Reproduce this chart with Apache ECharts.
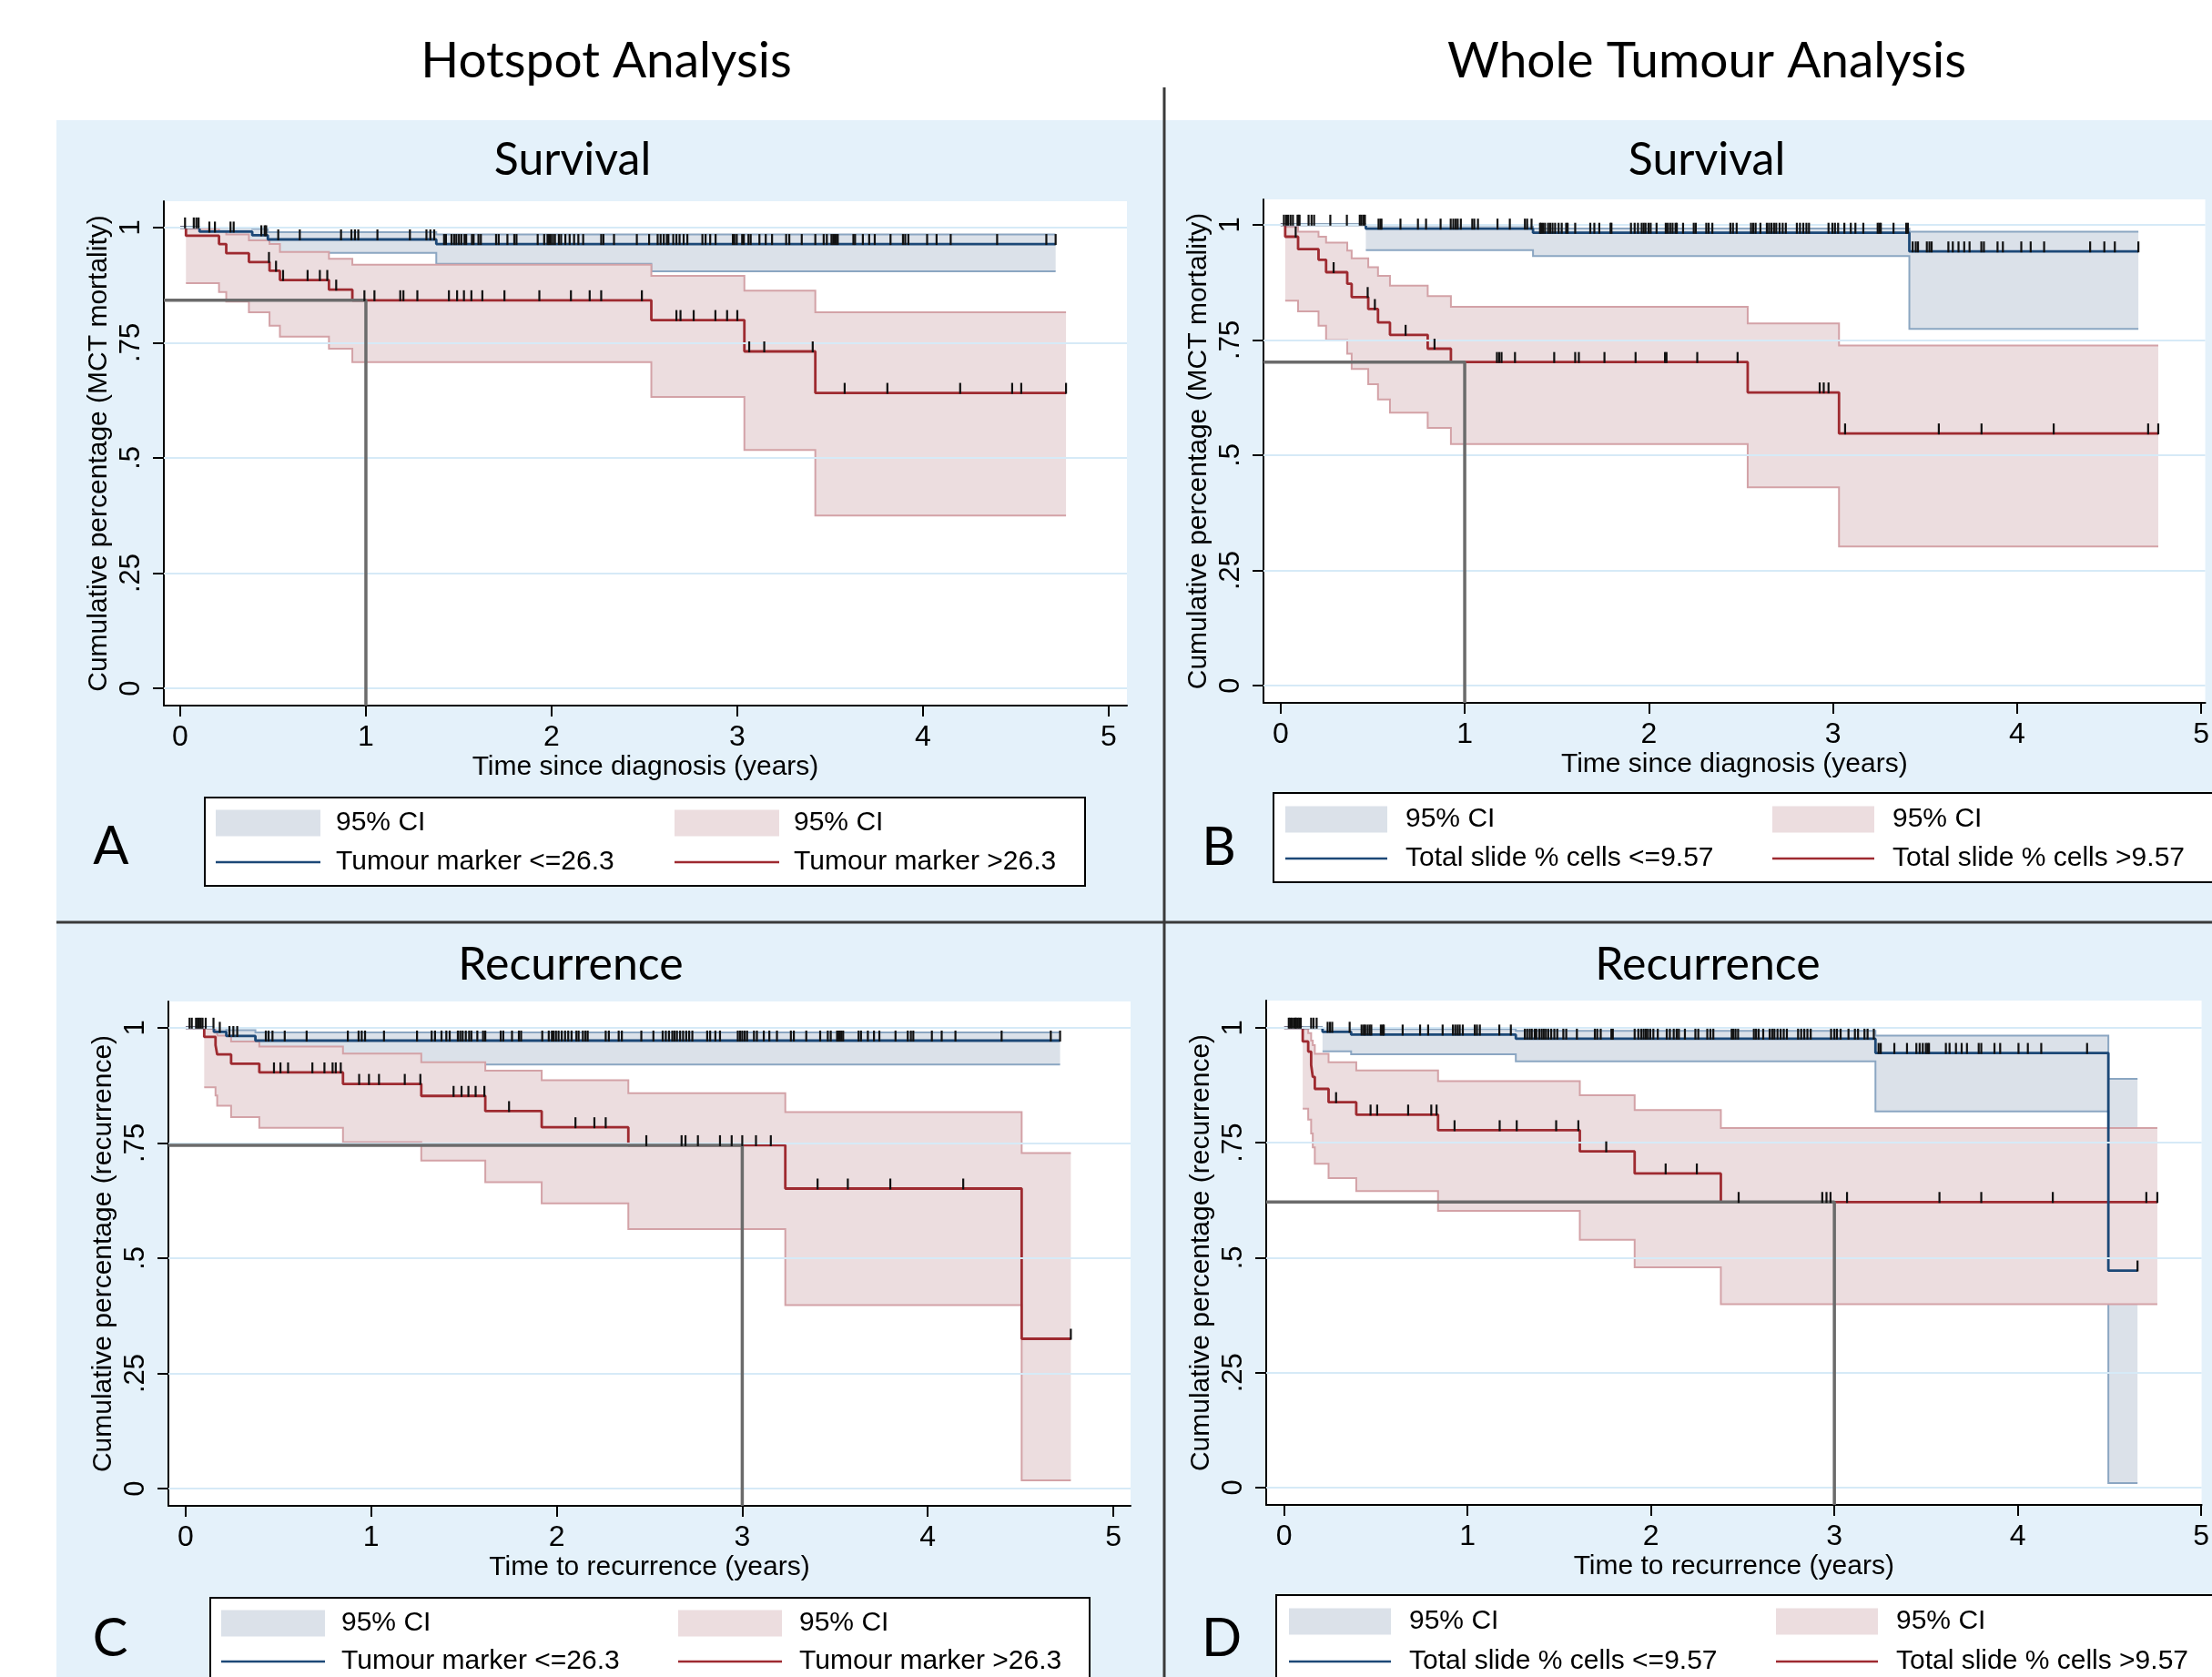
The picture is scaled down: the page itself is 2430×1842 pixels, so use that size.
<!DOCTYPE html>
<html>
<head>
<meta charset="utf-8">
<script src="https://cdn.jsdelivr.net/npm/echarts@6/dist/echarts.min.js"></script>
<style>
html, body { margin: 0; padding: 0; background: #fff; }
#show { width: 2430px; height: 1842px; }
</style>
</head>
<body>
<div id="show"></div>
<script>
var myChart = echarts.init(document.getElementById("show"));

// ---- axis ticks ----
var xTickVals = [0, 1, 2, 3, 4, 5];
var yTickVals = [0, 0.25, 0.5, 0.75, 1];
var yTickLabels = ['0', '.25', '.5', '.75', '1'];

// ---- A: hotspot, survival ----
var aRedT  = [0, 0.031, 0.209, 0.248, 0.370, 0.481, 0.537, 0.801, 0.927, 2.537, 3.038, 3.420];
var aRedS  = [1, 0.982, 0.964, 0.944, 0.925, 0.906, 0.886, 0.865, 0.842, 0.799, 0.731, 0.641];
var aRedLo = [null, 0.879, 0.860, 0.839, 0.816, 0.787, 0.763, 0.737, 0.708, 0.632, 0.517, 0.375];
var aRedHi = [null, 0.997, 0.992, 0.985, 0.972, 0.964, 0.947, 0.932, 0.919, 0.895, 0.863, 0.816];
var aRedEnd = 4.77;
var aRedCens = [0.478, 0.516, 0.554, 0.686, 0.752, 0.792, 0.840, 0.992, 1.046, 1.185, 1.202, 1.277, 1.447, 1.491, 1.528, 1.568, 1.627, 1.746, 1.934, 2.104, 2.205, 2.267, 2.486, 2.672, 2.694, 2.765, 2.882, 2.945, 3.000, 3.064, 3.145, 3.406, 3.578, 3.808, 4.200, 4.480, 4.529, 4.770];
var aBlueT  = [0, 0.104, 0.388, 0.472, 1.379, 2.537];
var aBlueS  = [1, 0.991, 0.983, 0.974, 0.964, 0.964];
var aBlueLo = [null, 0.960, 0.955, 0.945, 0.921, 0.905];
var aBlueHi = [null, 0.999, 0.997, 0.990, 0.985, 0.985];
var aBlueEnd = 4.714;
var aBlueCens = [0.026, 0.073, 0.087, 0.099, 0.157, 0.187, 0.271, 0.288, 0.437, 0.455, 0.463, 0.528, 0.644, 0.866, 0.922, 0.941, 0.959, 1.062, 1.237, 1.326, 1.347, 1.368, 1.421, 1.431, 1.461, 1.475, 1.487, 1.501, 1.514, 1.531, 1.540, 1.571, 1.580, 1.606, 1.619, 1.701, 1.715, 1.762, 1.799, 1.811, 1.925, 1.960, 1.978, 1.986, 1.995, 2.007, 2.018, 2.039, 2.051, 2.074, 2.097, 2.121, 2.144, 2.170, 2.267, 2.279, 2.336, 2.459, 2.525, 2.571, 2.587, 2.604, 2.621, 2.629, 2.655, 2.672, 2.689, 2.711, 2.731, 2.812, 2.829, 2.854, 2.883, 2.976, 2.984, 2.997, 3.026, 3.035, 3.060, 3.072, 3.119, 3.153, 3.187, 3.263, 3.280, 3.347, 3.420, 3.465, 3.482, 3.507, 3.516, 3.524, 3.533, 3.541, 3.625, 3.634, 3.676, 3.710, 3.740, 3.825, 3.892, 3.904, 3.921, 4.022, 4.073, 4.149, 4.399, 4.664, 4.714];
var aRef = [1, 0.842];

// ---- B: whole tumour, survival ----
var bRedT  = [0, 0.025, 0.095, 0.206, 0.247, 0.362, 0.386, 0.476, 0.529, 0.594, 0.799, 0.925, 2.537, 3.033];
var bRedS  = [1, 0.974, 0.947, 0.924, 0.897, 0.872, 0.843, 0.817, 0.788, 0.761, 0.731, 0.702, 0.636, 0.547];
var bRedLo = [null, 0.835, 0.812, 0.781, 0.750, 0.720, 0.687, 0.654, 0.621, 0.592, 0.559, 0.524, 0.430, 0.302];
var bRedHi = [null, 0.995, 0.985, 0.974, 0.961, 0.944, 0.927, 0.908, 0.889, 0.868, 0.845, 0.822, 0.786, 0.738];
var bRedEnd = 4.767;
var bRedCens = [0.082, 0.288, 0.473, 0.512, 0.679, 0.836, 1.175, 1.187, 1.200, 1.273, 1.486, 1.600, 1.620, 1.759, 1.928, 2.088, 2.096, 2.263, 2.482, 2.928, 2.950, 2.976, 3.066, 3.575, 3.807, 4.199, 4.712, 4.767];
var bBlueT  = [0, 0.463, 1.371, 3.415];
var bBlueS  = [1, 0.9915, 0.9825, 0.942];
var bBlueLo = [null, 0.945, 0.932, 0.774];
var bBlueHi = [null, 0.999, 0.992, 0.985];
var bBlueEnd = 4.659;
var bBlueCens = [0.018, 0.030, 0.041, 0.054, 0.067, 0.092, 0.098, 0.103, 0.152, 0.168, 0.182, 0.270, 0.360, 0.430, 0.439, 0.450, 0.458, 0.532, 0.542, 0.548, 0.651, 0.746, 0.790, 0.869, 0.924, 0.938, 0.951, 0.962, 0.979, 1.041, 1.052, 1.072, 1.178, 1.245, 1.327, 1.339, 1.363, 1.409, 1.415, 1.425, 1.436, 1.453, 1.464, 1.477, 1.491, 1.510, 1.527, 1.551, 1.559, 1.600, 1.682, 1.704, 1.731, 1.792, 1.797, 1.903, 1.923, 1.941, 1.961, 1.972, 1.982, 1.998, 2.010, 2.042, 2.092, 2.103, 2.116, 2.129, 2.145, 2.152, 2.186, 2.244, 2.255, 2.312, 2.325, 2.345, 2.443, 2.457, 2.477, 2.555, 2.567, 2.580, 2.606, 2.641, 2.653, 2.666, 2.680, 2.692, 2.710, 2.727, 2.744, 2.804, 2.821, 2.839, 2.856, 2.870, 2.976, 2.997, 3.011, 3.028, 3.062, 3.097, 3.122, 3.165, 3.243, 3.252, 3.260, 3.329, 3.398, 3.407, 3.433, 3.450, 3.462, 3.510, 3.524, 3.536, 3.627, 3.651, 3.682, 3.713, 3.742, 3.806, 3.820, 3.894, 3.923, 4.023, 4.074, 4.147, 4.397, 4.474, 4.531, 4.659];
var bRef = [1, 0.702];

// ---- C: hotspot, recurrence ----
var cRedT  = [0, 0.100, 0.161, 0.170, 0.245, 0.397, 0.848, 1.270, 1.615, 1.919, 2.386, 3.232, 4.506];
var cRedS  = [1, 0.980, 0.962, 0.942, 0.922, 0.903, 0.878, 0.852, 0.819, 0.784, 0.745, 0.651, 0.325];
var cRedLo = [null, 0.871, 0.853, 0.831, 0.806, 0.783, 0.752, 0.712, 0.665, 0.619, 0.563, 0.398, 0.018];
var cRedHi = [null, 0.998, 0.990, 0.983, 0.970, 0.959, 0.944, 0.925, 0.907, 0.886, 0.858, 0.817, 0.728];
var cRedEnd = 4.771;
var cRedCens = [0.476, 0.511, 0.552, 0.683, 0.748, 0.792, 0.809, 0.836, 0.935, 0.988, 1.042, 1.181, 1.265, 1.444, 1.487, 1.524, 1.563, 1.610, 1.743, 2.101, 2.203, 2.264, 2.483, 2.673, 2.694, 2.761, 2.880, 2.943, 3.000, 3.074, 3.154, 3.406, 3.569, 3.798, 4.191, 4.771];
var cBlueT  = [0, 0.152, 0.219, 0.376];
var cBlueS  = [1, 0.991, 0.982, 0.972];
var cBlueLo = [null, 0.945, 0.930, 0.920];
var cBlueHi = [null, 0.999, 0.995, 0.990];
var cBlueEnd = 4.713;
var cBlueCens = [0.021, 0.033, 0.056, 0.065, 0.073, 0.082, 0.091, 0.108, 0.150, 0.184, 0.236, 0.257, 0.278, 0.432, 0.447, 0.468, 0.534, 0.652, 0.874, 0.932, 0.949, 0.967, 1.069, 1.247, 1.326, 1.344, 1.379, 1.405, 1.423, 1.467, 1.480, 1.493, 1.510, 1.528, 1.540, 1.572, 1.603, 1.615, 1.698, 1.712, 1.759, 1.796, 1.808, 1.922, 1.957, 1.974, 1.983, 1.996, 2.010, 2.027, 2.045, 2.062, 2.080, 2.106, 2.118, 2.141, 2.155, 2.167, 2.264, 2.281, 2.334, 2.351, 2.456, 2.521, 2.571, 2.588, 2.605, 2.623, 2.635, 2.648, 2.665, 2.681, 2.698, 2.714, 2.731, 2.811, 2.827, 2.855, 2.880, 2.976, 2.988, 3.000, 3.013, 3.026, 3.063, 3.079, 3.116, 3.146, 3.187, 3.262, 3.278, 3.345, 3.420, 3.461, 3.477, 3.511, 3.519, 3.527, 3.535, 3.544, 3.627, 3.640, 3.677, 3.710, 3.739, 3.826, 3.892, 3.909, 3.922, 4.022, 4.075, 4.149, 4.398, 4.663, 4.713];
var cRef = [3, 0.745];

// ---- D: whole tumour, recurrence ----
var dRedT  = [0, 0.101, 0.131, 0.147, 0.156, 0.167, 0.242, 0.393, 0.839, 1.612, 1.911, 2.381];
var dRedS  = [1, 0.970, 0.948, 0.919, 0.893, 0.867, 0.838, 0.811, 0.777, 0.731, 0.683, 0.621];
var dRedLo = [null, 0.824, 0.800, 0.770, 0.740, 0.704, 0.673, 0.645, 0.602, 0.539, 0.479, 0.399];
var dRedHi = [null, 0.997, 0.988, 0.972, 0.962, 0.943, 0.925, 0.907, 0.884, 0.853, 0.821, 0.782];
var dRedEnd = 4.761;
var dRedCens = [0.283, 0.471, 0.507, 0.676, 0.802, 0.831, 0.929, 1.175, 1.268, 1.483, 1.604, 1.756, 2.080, 2.250, 2.478, 2.934, 2.957, 2.979, 3.069, 3.573, 3.801, 4.191, 4.701, 4.761];
var dBlueT  = [0, 0.209, 0.365, 1.263, 3.224, 4.494];
var dBlueS  = [1, 0.991, 0.985, 0.976, 0.945, 0.472];
var dBlueLo = [null, 0.9485, 0.942, 0.927, 0.818, 0.010];
var dBlueHi = [null, 0.999, 0.997, 0.993, 0.983, 0.889];
var dBlueEnd = 4.653;
var dBlueCens = [0.025, 0.033, 0.041, 0.052, 0.061, 0.065, 0.074, 0.082, 0.090, 0.147, 0.160, 0.177, 0.237, 0.250, 0.262, 0.357, 0.422, 0.434, 0.442, 0.455, 0.466, 0.475, 0.527, 0.537, 0.543, 0.646, 0.741, 0.785, 0.864, 0.920, 0.933, 0.946, 0.957, 0.974, 1.039, 1.051, 1.067, 1.173, 1.236, 1.312, 1.325, 1.339, 1.350, 1.366, 1.375, 1.391, 1.404, 1.415, 1.427, 1.440, 1.456, 1.473, 1.489, 1.522, 1.538, 1.596, 1.694, 1.707, 1.726, 1.784, 1.792, 1.911, 1.931, 1.947, 1.960, 1.972, 1.983, 1.996, 2.013, 2.037, 2.086, 2.103, 2.124, 2.140, 2.152, 2.185, 2.242, 2.258, 2.307, 2.324, 2.340, 2.440, 2.449, 2.461, 2.475, 2.561, 2.573, 2.587, 2.612, 2.647, 2.661, 2.673, 2.690, 2.707, 2.724, 2.741, 2.802, 2.819, 2.836, 2.853, 2.871, 2.982, 3.000, 3.014, 3.034, 3.077, 3.112, 3.129, 3.164, 3.181, 3.215, 3.241, 3.253, 3.327, 3.396, 3.447, 3.465, 3.482, 3.499, 3.508, 3.516, 3.608, 3.628, 3.663, 3.694, 3.723, 3.787, 3.801, 3.873, 3.904, 4.004, 4.055, 4.128, 4.378, 4.653];
var dRef = [3, 0.621];

// ---- styling ----
var sans = '"Liberation Sans", Arial, Helvetica, sans-serif';
var geo = 'Lato, "Noto Sans", sans-serif';
var RED = '#9e2a30', BLUE = '#1c4877';
var RED_FILL = '#ecdddf', RED_EDGE = '#d3a2a7';
var BLUE_FILL = '#dbe1e9', BLUE_EDGE = '#8ba6c2';

var panels = [
    {grid: {left: 180, top: 221, width: 1058, height: 554}, xr: [-0.088, 5.098], yr: [-0.0375, 1.057],
     xName: 'Time since diagnosis (years)', yName: 'Cumulative percentage (MCT mortality)',
     red: [aRedT, aRedS, aRedLo, aRedHi, aRedEnd, aRedCens], blue: [aBlueT, aBlueS, aBlueLo, aBlueHi, aBlueEnd, aBlueCens], ref: aRef},
    {grid: {left: 1388, top: 219, width: 1042, height: 553}, xr: [-0.093, 5.022], yr: [-0.0375, 1.055],
     xName: 'Time since diagnosis (years)', yName: 'Cumulative percentage (MCT mortality)',
     red: [bRedT, bRedS, bRedLo, bRedHi, bRedEnd, bRedCens], blue: [bBlueT, bBlueS, bBlueLo, bBlueHi, bBlueEnd, bBlueCens], ref: bRef},
    {grid: {left: 185, top: 1100, width: 1057, height: 554}, xr: [-0.093, 5.093], yr: [-0.0375, 1.057],
     xName: 'Time to recurrence (years)', yName: 'Cumulative percentage (recurrence)',
     red: [cRedT, cRedS, cRedLo, cRedHi, cRedEnd, cRedCens], blue: [cBlueT, cBlueS, cBlueLo, cBlueHi, cBlueEnd, cBlueCens], ref: cRef},
    {grid: {left: 1391, top: 1099, width: 1039, height: 554}, xr: [-0.098, 5.0025], yr: [-0.0376, 1.059],
     xName: 'Time to recurrence (years)', yName: 'Cumulative percentage (recurrence)',
     red: [dRedT, dRedS, dRedLo, dRedHi, dRedEnd, dRedCens], blue: [dBlueT, dBlueS, dBlueLo, dBlueHi, dBlueEnd, dBlueCens], ref: dRef}
];

function stepAt(T, S, t) {
    var v = S[0];
    for (var k = 0; k < T.length; k++) if (T[k] <= t) v = S[k];
    return v;
}

function curveData(c) {
    var d = c[0].map(function (t, k) { return [t, c[1][k]]; });
    d.push([c[4], c[1][c[1].length - 1]]);
    return d;
}

function bandRender(c, fill, edge) {
    var T = c[0], lo = c[2], hi = c[3], end = c[4];
    return function (params, api) {
        var up = [], dn = [];
        for (var k = 0; k < T.length; k++) {
            if (lo[k] == null) continue;
            var t1 = k + 1 < T.length ? T[k + 1] : end;
            up.push(api.coord([T[k], hi[k]]), api.coord([t1, hi[k]]));
            dn.push(api.coord([T[k], lo[k]]), api.coord([t1, lo[k]]));
        }
        return {type: 'group', children: [
            {type: 'polygon', shape: {points: up.concat(dn.slice().reverse())}, style: {fill: fill}},
            {type: 'polyline', shape: {points: up}, style: {stroke: edge, lineWidth: 2, fill: null}},
            {type: 'polyline', shape: {points: dn}, style: {stroke: edge, lineWidth: 2, fill: null}}
        ]};
    };
}

function tickRender(params, api) {
    var p = api.coord([api.value(0), api.value(1)]);
    return {type: 'line', shape: {x1: p[0], y1: p[1] + 1, x2: p[0], y2: p[1] - 11},
            style: {stroke: '#111', lineWidth: 2.2}};
}

var grids = [], xAxes = [], yAxes = [], series = [];

panels.forEach(function (p, i) {
    grids.push({left: p.grid.left, top: p.grid.top, width: p.grid.width, height: p.grid.height,
                show: true, backgroundColor: '#fff', borderWidth: 0, containLabel: false});
    xAxes.push({
        type: 'value', gridIndex: i, min: p.xr[0], max: p.xr[1],
        axisLine: {show: true, onZero: false, lineStyle: {color: '#000', width: 2}},
        axisTick: {show: true, length: 12, customValues: xTickVals, lineStyle: {color: '#000', width: 2}},
        axisLabel: {customValues: xTickVals, formatter: function (v) { return String(v); },
                    fontSize: 32, color: '#000', fontFamily: sans, margin: 19},
        splitLine: {show: false},
        name: p.xName, nameLocation: 'middle', nameGap: 53,
        nameTextStyle: {fontSize: 30, color: '#000', fontFamily: sans}
    });
    yAxes.push({
        type: 'value', gridIndex: i, min: p.yr[0], max: p.yr[1],
        axisLine: {show: true, onZero: false, lineStyle: {color: '#000', width: 2}},
        axisTick: {show: true, length: 12, customValues: yTickVals, lineStyle: {color: '#000', width: 2}},
        axisLabel: {customValues: yTickVals, rotate: 90, margin: 20,
                    formatter: function (v) { return yTickLabels[yTickVals.indexOf(v)]; },
                    fontSize: 31, color: '#000', fontFamily: sans},
        splitLine: {show: false},
        name: p.yName, nameLocation: 'middle', nameGap: 56,
        nameTextStyle: {fontSize: 30, color: '#000', fontFamily: sans}
    });

    // grid lines
    series.push({type: 'line', xAxisIndex: i, yAxisIndex: i, z: 0, silent: true,
        data: [[p.xr[0], p.yr[0]]], showSymbol: false, lineStyle: {opacity: 0},
        markLine: {silent: true, symbol: 'none', label: {show: false}, animation: false,
            lineStyle: {color: '#d6eaf7', width: 2, type: 'solid'},
            data: yTickVals.map(function (v) { return {yAxis: v}; })}
    });
    // confidence bands
    series.push({type: 'custom', xAxisIndex: i, yAxisIndex: i, z: 1, silent: true,
        data: [[p.blue[0][1], p.blue[1][1]]], renderItem: bandRender(p.blue, BLUE_FILL, BLUE_EDGE)});
    series.push({type: 'custom', xAxisIndex: i, yAxisIndex: i, z: 2, silent: true,
        data: [[p.red[0][1], p.red[1][1]]], renderItem: bandRender(p.red, RED_FILL, RED_EDGE)});
    // survival curves
    series.push({type: 'line', xAxisIndex: i, yAxisIndex: i, z: 3, step: 'end', showSymbol: false,
        data: curveData(p.red), lineStyle: {color: RED, width: 2.8}});
    series.push({type: 'line', xAxisIndex: i, yAxisIndex: i, z: 4, step: 'end', showSymbol: false,
        data: curveData(p.blue), lineStyle: {color: BLUE, width: 2.8}});
    // reference line
    series.push({type: 'line', xAxisIndex: i, yAxisIndex: i, z: 5, showSymbol: false,
        data: [[p.xr[0], p.ref[1]], [p.ref[0], p.ref[1]], [p.ref[0], p.yr[0]]],
        lineStyle: {color: '#6b6b6b', width: 3.5}});
    // censoring marks
    var cens = p.red[5].map(function (t) { return [t, stepAt(p.red[0], p.red[1], t)]; })
        .concat(p.blue[5].map(function (t) { return [t, stepAt(p.blue[0], p.blue[1], t)]; }));
    series.push({type: 'custom', xAxisIndex: i, yAxisIndex: i, z: 6, silent: true,
        data: cens, renderItem: tickRender});
});

// ---- titles, dividers, legends ----
function txt(s, x, y, size, fam, align) {
    return {type: 'text', z: 20, style: {text: s, x: x, y: y, fill: '#000', fontSize: size,
            fontFamily: fam, align: align || 'center', verticalAlign: 'middle'}};
}

var legends = [
    {x: 225, y: 876, w: 967, h: 97, s1: 237, s2: 741, sw: 115, t1: 369, t2: 872, r1: 904, r2: 947,
     lab: ['Tumour marker <=26.3', 'Tumour marker >26.3']},
    {x: 1399, y: 871, w: 1100, h: 98, s1: 1412, s2: 1947, sw: 112, t1: 1544, t2: 2079, r1: 900, r2: 943,
     lab: ['Total slide % cells <=9.57', 'Total slide % cells >9.57']},
    {x: 231, y: 1755, w: 966, h: 120, s1: 243, s2: 745, sw: 114, t1: 375, t2: 878, r1: 1783, r2: 1825,
     lab: ['Tumour marker <=26.3', 'Tumour marker >26.3']},
    {x: 1402, y: 1752, w: 1100, h: 120, s1: 1416, s2: 1951, sw: 112, t1: 1548, t2: 2083, r1: 1781, r2: 1825,
     lab: ['Total slide % cells <=9.57', 'Total slide % cells >9.57']}
];

var graphics = [
    {type: 'rect', z: -5, shape: {x: 62, y: 132, width: 2368, height: 1710}, style: {fill: '#e4f1fa'}},
    {type: 'line', z: 20, shape: {x1: 1279, y1: 96, x2: 1279, y2: 1842}, style: {stroke: '#3a3a3a', lineWidth: 3}},
    {type: 'line', z: 20, shape: {x1: 62, y1: 1013, x2: 2430, y2: 1013}, style: {stroke: '#3a3a3a', lineWidth: 3}},
    txt('Hotspot Analysis', 666, 67, 55, geo),
    txt('Whole Tumour Analysis', 1875, 67, 55, geo),
    txt('Survival', 629, 176, 50, geo),
    txt('Survival', 1875, 176, 50, geo),
    txt('Recurrence', 627, 1060, 50, geo),
    txt('Recurrence', 1876, 1060, 50, geo),
    txt('A', 122, 930, 58, geo),
    txt('B', 1339, 931, 58, geo),
    txt('C', 121, 1800, 58, geo),
    txt('D', 1342, 1800, 58, geo)
];

legends.forEach(function (L) {
    graphics.push(
        {type: 'rect', z: 10, shape: {x: L.x, y: L.y, width: L.w, height: L.h}, style: {fill: '#fff', stroke: '#000', lineWidth: 2}},
        {type: 'rect', z: 11, shape: {x: L.s1, y: L.r1 - 14.5, width: L.sw, height: 29}, style: {fill: BLUE_FILL}},
        {type: 'rect', z: 11, shape: {x: L.s2, y: L.r1 - 14.5, width: L.sw, height: 29}, style: {fill: RED_FILL}},
        {type: 'line', z: 11, shape: {x1: L.s1, y1: L.r2, x2: L.s1 + L.sw, y2: L.r2}, style: {stroke: BLUE, lineWidth: 2.5}},
        {type: 'line', z: 11, shape: {x1: L.s2, y1: L.r2, x2: L.s2 + L.sw, y2: L.r2}, style: {stroke: RED, lineWidth: 2.5}},
        txt('95% CI', L.t1, L.r1, 30, sans, 'left'),
        txt('95% CI', L.t2, L.r1, 30, sans, 'left'),
        txt(L.lab[0], L.t1, L.r2, 30, sans, 'left'),
        txt(L.lab[1], L.t2, L.r2, 30, sans, 'left')
    );
});

myChart.setOption(option = {
    backgroundColor: '#fff',
    animation: false,
    grid: grids,
    xAxis: xAxes,
    yAxis: yAxes,
    series: series,
    graphic: graphics
});
</script>
</body>
</html>
